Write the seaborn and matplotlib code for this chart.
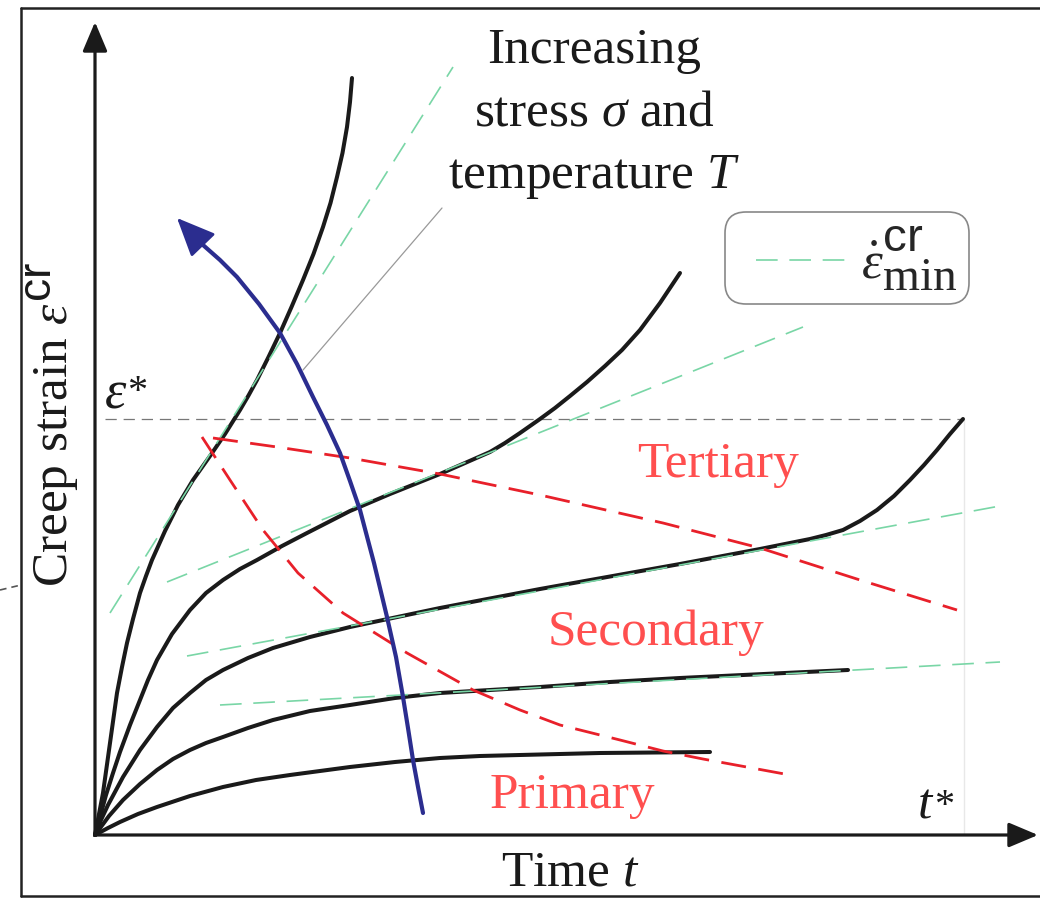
import matplotlib
matplotlib.use("Agg")
import matplotlib.pyplot as plt
import seaborn as sns
from matplotlib.lines import Line2D
from matplotlib.legend_handler import HandlerLine2D

try:  # larger super/subscripts, as in the original typesetting
    import matplotlib._mathtext as _mt
    _mt.SHRINK_FACTOR = 0.9
except Exception:
    pass

# ---------------- data (schematic units: time t, creep strain eps) ----------------
# creep curves, from highest stress/temperature (1) to lowest (5)
t1 = [0, .04, .08, .115, .15, .185, .22, .27, .32, .38, .45, .51, .57, .70, .83, .98, 1.15, 1.30, 1.45,
      1.535, 1.62, 1.735, 1.85, 1.965, 2.08, 2.185, 2.28, 2.355, 2.42, 2.475, 2.52, 2.55, 2.57]
e1 = [0, .21, .42, .67, .92, 1.17, 1.42, 1.68, 1.92, 2.16, 2.42, 2.59, 2.75, 3.04, 3.30, 3.55, 3.79, 4.01, 4.25,
      4.395, 4.55, 4.78, 5.02, 5.28, 5.55, 5.81, 6.08, 6.32, 6.58, 6.82, 7.08, 7.33, 7.57]

t2 = [0, .05, .11, .18, .25, .35, .45, .53, .62, .77, .95, 1.11, 1.28, 1.45, 1.62, 1.87, 2.12, 2.55, 2.95,
      3.45, 3.70, 3.95, 4.10, 4.25, 4.45, 4.60, 4.75, 4.92, 5.10, 5.27, 5.45, 5.65, 5.85]
e2 = [0, .18, .40, .62, .83, 1.10, 1.35, 1.55, 1.75, 2.01, 2.25, 2.42, 2.55, 2.66, 2.75, 2.89, 3.02, 3.24, 3.41,
      3.61, 3.72, 3.83, 3.92, 4.02, 4.16, 4.27, 4.39, 4.53, 4.69, 4.85, 5.05, 5.32, 5.62]

t3 = [0, .06, .13, .28, .45, .62, .78, .95, 1.11, 1.28, 1.53, 1.78, 2.15, 2.55, 3.45, 4.45, 5.85, 6.65, 7.15,
      7.31, 7.48, 7.65, 7.82, 7.99, 8.15, 8.29, 8.42, 8.55, 8.68]
e3 = [0, .15, .30, .58, .85, 1.08, 1.27, 1.42, 1.55, 1.65, 1.77, 1.87, 1.98, 2.08, 2.27, 2.46, 2.71, 2.86, 2.96,
      3.00, 3.05, 3.14, 3.25, 3.39, 3.55, 3.70, 3.85, 4.01, 4.16]

t4 = [0, .14, .28, .45, .62, .78, .95, 1.11, 1.28, 1.53, 1.78, 2.15, 2.55, 3.00, 3.45, 3.95, 4.45, 5.15, 5.85,
      6.69, 7.53]
e4 = [0, .19, .35, .51, .65, .76, .85, .92, .98, 1.07, 1.15, 1.24, 1.30, 1.37, 1.42, 1.45, 1.48, 1.53, 1.57,
      1.61, 1.65]

t5 = [0, .13, .25, .43, .62, .95, 1.28, 1.61, 1.95, 2.25, 2.55, 3.00, 3.45, 3.85, 4.25, 5.05, 6.15]
e5 = [0, .07, .13, .21, .28, .39, .48, .55, .60, .64, .68, .73, .77, .79, .80, .82, .83]

# minimum creep-rate tangents (start, end)
g1_t, g1_e = [0.15, 3.58], [2.22, 7.68]
g2_t, g2_e = [0.72, 7.08], [2.53, 5.08]
g3_t, g3_e = [0.92, 9.05], [1.79, 3.29]
g4_t, g4_e = [1.25, 9.05], [1.30, 1.73]

# stage boundaries (primary/secondary, secondary/tertiary)
r1_t = [1.07, 1.21, 1.35, 1.515, 1.68, 1.855, 2.03, 2.255, 2.48, 2.80, 3.12, 3.45, 3.78, 4.015, 4.25, 4.65,
        5.25, 5.68, 6.08, 6.95]
r1_e = [3.98, 3.765, 3.55, 3.30, 3.05, 2.835, 2.62, 2.42, 2.22, 2.02, 1.82, 1.635, 1.45, 1.35, 1.25, 1.10,
        0.95, 0.84, 0.76, 0.60]
r2_t = [1.18, 1.82, 2.55, 3.45, 4.45, 5.68, 6.65, 7.65, 8.62]
r2_e = [3.97, 3.88, 3.77, 3.61, 3.40, 3.12, 2.87, 2.55, 2.25]

# "increasing stress and temperature" arrow
b_t = [3.28, 3.23, 3.18, 3.13, 3.08, 3.01, 2.92, 2.79, 2.65, 2.55, 2.45, 2.32, 2.18, 2.02, 1.85, 1.64, 1.42,
       1.25, 1.08]
b_e = [.22, .48, .75, 1.07, 1.38, 1.78, 2.18, 2.72, 3.25, 3.54, 3.82, 4.10, 4.38, 4.71, 5.02, 5.31, 5.58,
       5.75, 5.90]
b_tip = (0.82, 6.17)

# leader line to annotation
lead_t, lead_e = [2.08, 3.47], [4.65, 6.27]

eps_star = 4.16
t_star = 8.68

labels_title = ["Increasing", r"stress $\sigma$ and", r"temperature $T$"]
stage_labels = ["Tertiary", "Secondary", "Primary"]

# ---------------- style ----------------
sns.set_theme(style="white")
plt.rcParams["font.family"] = ["Liberation Serif", "DejaVu Serif"]
plt.rcParams["mathtext.fontset"] = "custom"
plt.rcParams["mathtext.rm"] = "Liberation Serif"
plt.rcParams["mathtext.it"] = "Liberation Serif:italic"
plt.rcParams["mathtext.bf"] = "Liberation Serif:bold"
plt.rcParams["mathtext.sf"] = "Liberation Sans"
plt.rcParams["mathtext.fallback"] = "stix"

BLACK = "#1a1a1a"
GREEN = "#79d6a6"
RED = "#e8202a"
RED_TXT = "#ff4f4f"
BLUE = "#2b2d8f"
GRAY = "#777777"
FS = 37

fig = plt.figure(figsize=(10.4, 8.98), dpi=100)
ax = fig.add_axes([0, 0, 1, 1])
ax.set_xlim(-0.95, 9.45)
ax.set_ylim(-0.63, 8.35)
ax.axis("off")

# reference lines eps*, t*
sns.lineplot(x=[0.10, t_star], y=[eps_star, eps_star], color=GRAY, linewidth=0.9,
             linestyle=(0, (9, 5.5)), ax=ax, zorder=1)
sns.lineplot(x=[t_star + 0.005, t_star + 0.005], y=[eps_star, 0], color="#8f8f8f", linewidth=1.3,
             linestyle=(0, (6, 6)), ax=ax, zorder=1)

# creep curves
for tt, ee in [(t1, e1), (t2, e2), (t3, e3), (t4, e4), (t5, e5)]:
    sns.lineplot(x=tt, y=ee, sort=False, estimator=None, errorbar=None, color=BLACK,
                 linewidth=2.9, solid_joinstyle="round", ax=ax, zorder=3)

# tangents
green_lines = []
for tt, ee in [(g1_t, g1_e), (g2_t, g2_e), (g3_t, g3_e), (g4_t, g4_e)]:
    sns.lineplot(x=tt, y=ee, sort=False, estimator=None, errorbar=None, color=GREEN,
                 linewidth=1.2, linestyle=(0, (13, 7)), ax=ax, zorder=4)
    green_lines.append(ax.lines[-1])

# stage boundaries
for tt, ee in [(r1_t, r1_e), (r2_t, r2_e)]:
    sns.lineplot(x=tt, y=ee, sort=False, estimator=None, errorbar=None, color=RED,
                 linewidth=2.0, linestyle=(0, (9, 4.5)), ax=ax, zorder=5)

# leader line
sns.lineplot(x=lead_t, y=lead_e, color="#999999", linewidth=0.9, ax=ax, zorder=2)

# blue arrow
sns.lineplot(x=b_t, y=b_e, sort=False, estimator=None, errorbar=None, color=BLUE,
             linewidth=3.0, solid_joinstyle="round", ax=ax, zorder=6)
ax.annotate("", xy=b_tip, xytext=(b_t[-1], b_e[-1]),
            arrowprops=dict(arrowstyle="-|>,head_length=0.48,head_width=0.21", mutation_scale=50,
                            lw=2.0, color=BLUE, shrinkA=0, shrinkB=0), zorder=6)

# axes arrows
ax.annotate("", xy=(0, 8.13), xytext=(0, 0),
            arrowprops=dict(arrowstyle="-|>,head_length=0.9,head_width=0.38", mutation_scale=20,
                            lw=2.3, color=BLACK, shrinkA=0, shrinkB=0), zorder=7)
ax.annotate("", xy=(9.43, 0), xytext=(0, 0),
            arrowprops=dict(arrowstyle="-|>,head_length=0.9,head_width=0.38", mutation_scale=20,
                            lw=2.3, color=BLACK, shrinkA=0, shrinkB=0), zorder=7)

# texts
for s, y in zip(labels_title, [7.72, 7.10, 6.47]):
    ax.text(4.99, y, s, fontsize=FS, ha="center", va="baseline", color=BLACK)
for s, (x, y) in zip(stage_labels, [(6.23, 3.58), (5.61, 1.90), (4.77, 0.27)]):
    ax.text(x, y, s, fontsize=FS, ha="center", va="baseline", color=RED_TXT)
# eps* and t* (base symbol + asterisk)
ax.text(0.09, 4.28, r"$\varepsilon$", fontsize=39, ha="left", va="baseline", color=BLACK)
ax.text(0.42, 4.33, "*", fontsize=29, ha="center", va="baseline", color=BLACK)
ax.text(8.22, 0.17, r"$t$", fontsize=FS, ha="left", va="baseline", color=BLACK)
ax.text(8.49, 0.19, "*", fontsize=29, ha="center", va="baseline", color=BLACK)
ax.text(4.75, -0.50, r"Time $t$", fontsize=FS, ha="center", va="baseline", color=BLACK)
ax.text(-0.43, 4.11, r"Creep strain $\varepsilon^{\mathsf{cr}}$", fontsize=FS, rotation=90,
        ha="center", va="center", color=BLACK)

# legend
LFS = 38
leg = ax.legend(handles=[green_lines[0]], labels=[r"$\dot{\varepsilon}^{\mathsf{cr}}_{\mathrm{min}}$"],
                loc="upper left", bbox_to_anchor=(725 / 1040, 1 - 212 / 898), bbox_transform=fig.transFigure,
                fontsize=LFS, frameon=True, fancybox=True, borderpad=0.22, handlelength=2.2,
                handletextpad=0.16, borderaxespad=0,
                handler_map={green_lines[0]: HandlerLine2D(xpad=0.36)})
fr = leg.get_frame()
fr.set_boxstyle("round,pad=0,rounding_size=0.4")
fr.set_edgecolor("#888888")
fr.set_linewidth(1.2)
fr.set_facecolor("white")
fr.set_alpha(1)

# outer frame (figure furniture)
x0 = 21 / 1040
ytop = 1 - 8 / 898
ybot = 1 - 896 / 898
for xs, ys in [([x0, x0], [ybot, ytop]), ([x0, 1.01], [ytop, ytop]), ([x0, 1.01], [ybot, ybot])]:
    fig.add_artist(Line2D(xs, ys, transform=fig.transFigure, color="#222222", lw=1.8))
fig.add_artist(Line2D([0, x0], [1 - 590 / 898, 1 - 585 / 898], transform=fig.transFigure,
                      color="#555555", lw=1.2, linestyle=(0, (4, 3))))

fig.savefig("out.png", dpi=100)
